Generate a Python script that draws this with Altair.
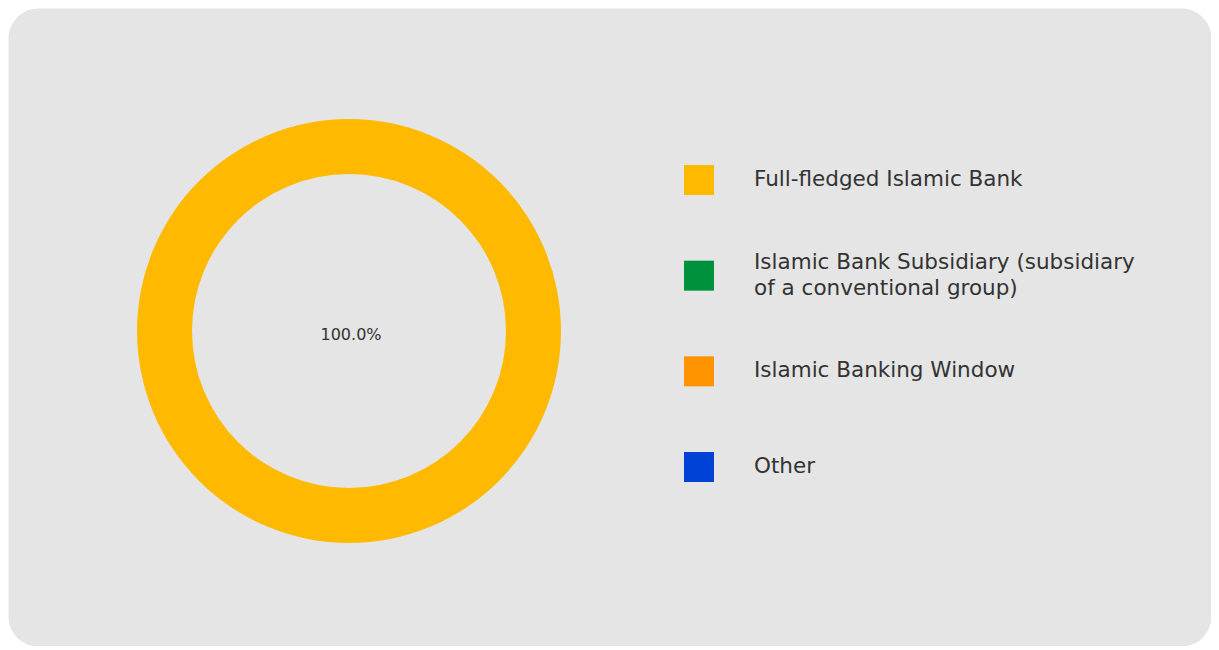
import altair as alt
import pandas as pd

categories = [
    "Full-fledged Islamic Bank",
    "Islamic Bank Subsidiary (subsidiary of a conventional group)",
    "Islamic Banking Window",
    "Other",
]
legend_labels = [
    "Full-fledged Islamic Bank",
    "Islamic Bank Subsidiary (subsidiary\nof a conventional group)",
    "Islamic Banking Window",
    "Other",
]
values = [100.0, 0.0, 0.0, 0.0]
colors = ["#FFB900", "#00913C", "#FF9300", "#0041D6"]

df = pd.DataFrame({
    "category": categories,
    "label": legend_labels,
    "value": values,
    "order": list(range(len(categories))),
})

color_scale = alt.Scale(domain=categories, range=colors)

arc = alt.Chart(df).mark_arc(outerRadius=212, innerRadius=157).encode(
    theta=alt.Theta("value:Q", stack=True),
    color=alt.Color("category:N", scale=color_scale, legend=None),
    order=alt.Order("order:Q"),
    x=alt.value(341),
    y=alt.value(323),
)

pct_label = alt.Chart(df).transform_joinaggregate(
    total="sum(value)"
).transform_filter(
    "datum.value > 0"
).transform_calculate(
    pct="format(datum.value / datum.total, '.1%')"
).mark_text(
    font="DejaVu Sans", fontSize=16, color="#333333", baseline="middle", align="center", dy=4
).encode(
    text="pct:N",
    x=alt.value(343),
    y=alt.value(323),
)

legend_y = alt.Y(
    "category:N",
    sort=categories,
    scale=alt.Scale(type="point", domain=categories, range=[172, 459], padding=0),
    axis=None,
)

legend_sq = alt.Chart(df).mark_point(shape="square", filled=True, size=900, opacity=1).encode(
    x=alt.value(691),
    y=legend_y,
    color=alt.Color("category:N", scale=color_scale, legend=None),
)

legend_txt = alt.Chart(df).transform_calculate(
    shift="-(length(split(datum.label, '\\n')) - 1) * 13"
).mark_text(
    font="DejaVu Sans",
    fontSize=21.5,
    color="#333333",
    align="left",
    baseline="middle",
    lineBreak="\n",
    lineHeight=26,
).encode(
    x=alt.value(746),
    y=legend_y,
    yOffset=alt.YOffset("shift:Q", scale=None),
    text="label:N",
)

chart = alt.layer(arc, pct_label, legend_sq, legend_txt).properties(
    width=1203,
    height=638,
    padding=0,
    autosize=alt.AutoSizeParams(type="none"),
).configure_view(
    fill="#E5E5E5",
    cornerRadius=30,
    stroke="transparent",
)

chart.save("out.html", embed_options={"renderer": "svg", "actions": False})
